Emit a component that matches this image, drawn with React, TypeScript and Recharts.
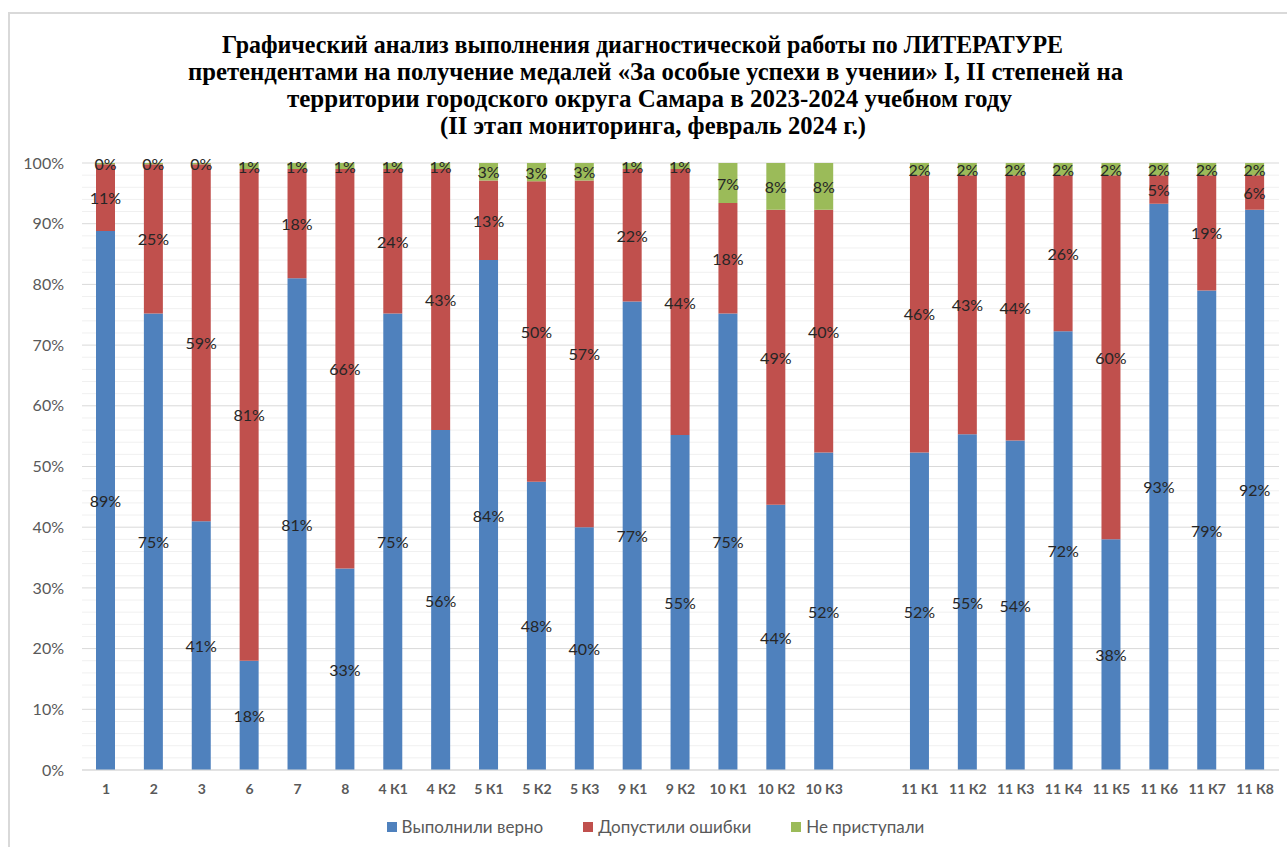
import { BarChart, Bar, XAxis, YAxis, CartesianGrid, LabelList } from 'recharts'

const categories = [
  '1', '2', '3', '6', '7', '8', '4 К1', '4 К2', '5 К1', '5 К2', '5 К3', '9 К1', '9 К2',
  '10 К1', '10 К2', '10 К3', '', '11 К1', '11 К2', '11 К3', '11 К4', '11 К5', '11 К6', '11 К7', '11 К8',
]
const correct = [88.8, 75.2, 41, 18, 81, 33.2, 75.2, 56, 84, 47.5, 40, 77.2, 55.2, 75.2, 43.7, 52.3, null, 52.3, 55.3, 54.3, 72.3, 38, 93.3, 79, 92.3]
const errors = [11, 24.6, 58.8, 81, 18, 65.8, 23.8, 43, 13.1, 49.5, 57.1, 21.8, 43.8, 18.2, 48.6, 40, null, 45.7, 42.7, 43.7, 25.7, 60, 4.7, 19, 5.7]
const notStarted = [0.2, 0.2, 0.2, 1, 1, 1, 1, 1, 2.9, 3, 2.9, 1, 1, 6.6, 7.7, 7.7, null, 2, 2, 2, 2, 2, 2, 2, 2]

const yTicks = Array.from({ length: 51 }, (_, i) => i * 2)

const titleLines = [
  'Графический анализ выполнения диагностической работы по ЛИТЕРАТУРЕ',
  'претендентами на получение медалей «За особые успехи в учении» I, II степеней на',
  'территории городского округа Самара в 2023-2024 учебном году',
  '(II этап мониторинга, февраль 2024 г.)',
]
// start x, baseline y, width of each title line
const titleBoxes = [
  [222, 53, 841],
  [188, 80, 935],
  [287, 107, 725],
  [440, 134, 426],
]

const series = [
  { key: 'correct', name: 'Выполнили верно', color: '#4F81BD' },
  { key: 'errors', name: 'Допустили ошибки', color: '#C0504D' },
  { key: 'notStarted', name: 'Не приступали', color: '#9BBB59' },
]

const data = categories.map((name, i) => ({
  name,
  correct: correct[i],
  errors: errors[i],
  notStarted: notStarted[i],
}))

const FONT = 'Lato, "Open Sans", sans-serif'

function SegmentLabel(props: any) {
  const { x, y, width, height } = props
  let v = props.value
  if (Array.isArray(v)) v = v[1] - v[0]
  if (v === null || v === undefined || Number.isNaN(Number(v))) return null
  return (
    <text
      x={Number(x) + Number(width) / 2}
      y={Number(y) + Number(height) / 2}
      textAnchor="middle"
      dominantBaseline="central"
      fontFamily={FONT}
      fontSize={16}
      fill="#262626"
    >
      {`${Math.round(Number(v))}%`}
    </text>
  )
}

function GridLine(props: any) {
  const { x1, x2, y1, y2, index } = props
  const major = index % 5 === 0
  return (
    <line
      x1={x1}
      x2={x2}
      y1={y1}
      y2={y2}
      stroke={major ? '#d9d9d9' : '#f0f0f0'}
      strokeWidth={1}
    />
  )
}

export default function App() {
  return (
    <div style={{ position: 'absolute', left: 0, top: 0, width: 1287, height: 847, background: '#fff', overflow: 'hidden' }}>
      <div
        style={{
          position: 'absolute', left: 8, top: 12, width: 1279, height: 835,
          borderTop: '2px solid #d9d9d9', borderLeft: '2px solid #d9d9d9', boxSizing: 'border-box',
        }}
      />
      <svg width={1287} height={150} style={{ position: 'absolute', left: 0, top: 0 }}>
        {titleLines.map((t, i) => (
          <text
            key={i}
            x={titleBoxes[i][0]}
            y={titleBoxes[i][1]}
            textLength={titleBoxes[i][2]}
            lengthAdjust="spacingAndGlyphs"
            fontFamily='"Liberation Serif", "Times New Roman", serif'
            fontWeight="bold"
            fontSize={26}
            fill="#000"
          >
            {t}
          </text>
        ))}
      </svg>
      <div style={{ position: 'absolute', left: 0, top: 0 }}>
        <BarChart
          width={1287}
          height={847}
          data={data}
          margin={{ top: 163, right: 8, left: 0, bottom: 47 }}
          barSize={19}
        >
          <CartesianGrid vertical={false} horizontal={(p: any) => <GridLine {...p} />} />
          <XAxis
            dataKey="name"
            interval={0}
            tickLine={false}
            tickSize={0}
            tickMargin={14}
            axisLine={{ stroke: '#d9d9d9' }}
            tick={{ fontFamily: FONT, fontSize: 14, fontWeight: 'bold', fill: '#595959' }}
          />
          <YAxis
            domain={[0, 100]}
            allowDataOverflow
            ticks={yTicks}
            interval={0}
            width={82}
            axisLine={false}
            tickLine={false}
            tickSize={0}
            tickMargin={18}
            tickFormatter={(v: number) => (v % 10 === 0 ? `${v}%` : '')}
            tick={{ fontFamily: FONT, fontSize: 16, fill: '#595959' }}
          />
          {series.map(s => (
            <Bar key={s.key} dataKey={s.key} name={s.name} stackId="a" fill={s.color} isAnimationActive={false}>
              <LabelList dataKey={s.key} content={(p: any) => <SegmentLabel {...p} />} />
            </Bar>
          ))}
        </BarChart>
      </div>
      <div
        style={{
          position: 'absolute', left: 0, top: 816, width: 1287, display: 'flex', justifyContent: 'center',
          paddingLeft: 24, boxSizing: 'border-box', gap: 40, fontFamily: FONT, fontSize: 17, color: '#595959',
        }}
      >
        {series.map(s => (
          <div key={s.key} style={{ display: 'flex', alignItems: 'center', gap: 5 }}>
            <span style={{ width: 10, height: 10, background: s.color, display: 'inline-block' }} />
            <span>{s.name}</span>
          </div>
        ))}
      </div>
    </div>
  )
}
